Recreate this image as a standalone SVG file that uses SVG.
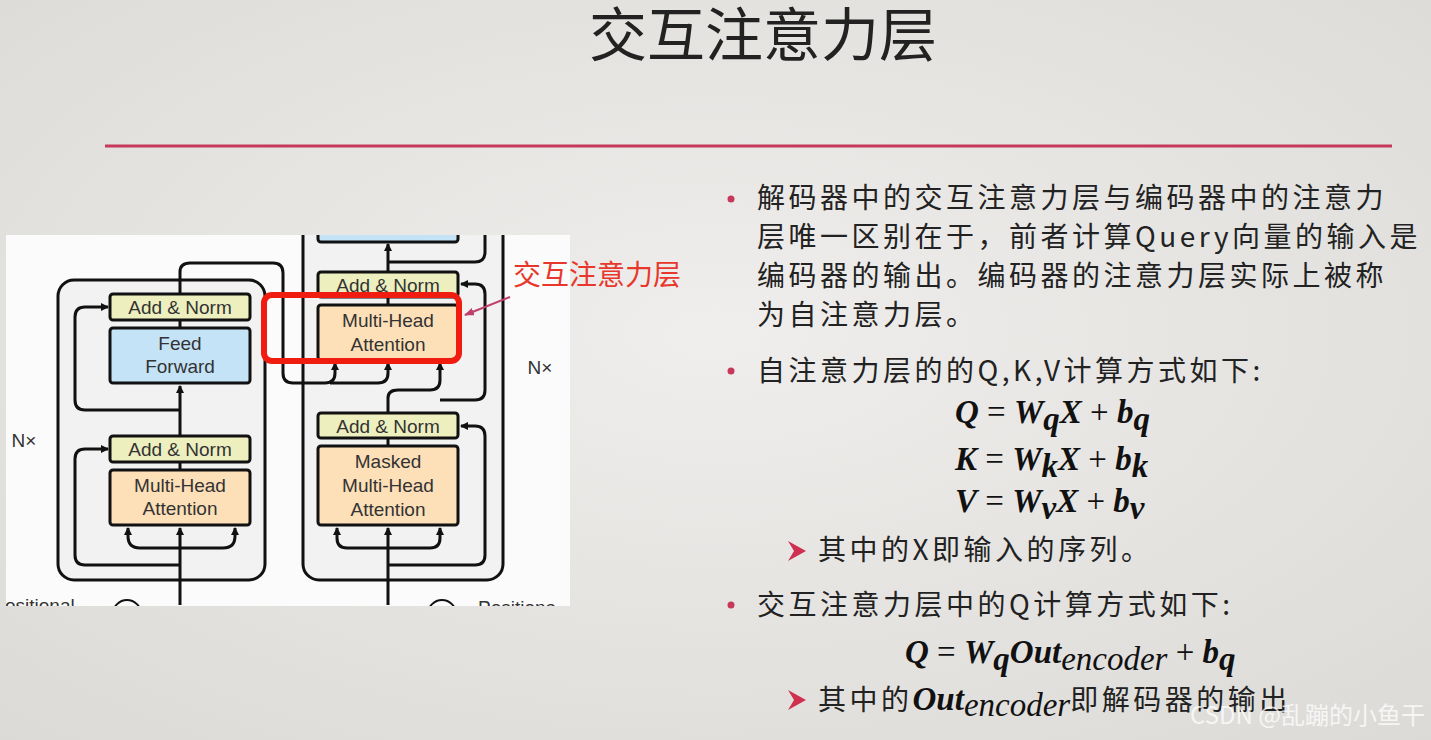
<svg xmlns="http://www.w3.org/2000/svg" width="1431" height="740" viewBox="0 0 1431 740">
<defs>
<radialGradient id="bg" cx="0.5" cy="0.45" r="0.75"><stop offset="0" stop-color="#efeeec"/><stop offset="1" stop-color="#dcdad7"/></radialGradient>
<marker id="ah" markerWidth="8" markerHeight="8" refX="7" refY="4" orient="auto" markerUnits="userSpaceOnUse"><path d="M0,0 L8,4 L0,8 Z" fill="#111"/></marker>
<marker id="ar" markerWidth="10" markerHeight="8" refX="9" refY="4" orient="auto" markerUnits="userSpaceOnUse"><path d="M0,0 L10,4 L0,8 Z" fill="#c0406a"/></marker>
<clipPath id="panel"><rect x="6" y="235" width="564" height="371"/></clipPath>
<style>
.an{fill:#eeefbf;stroke:#111;stroke-width:3}
.ff{fill:#c5e3f7;stroke:#111;stroke-width:3}
.mh{fill:#fde0b8;stroke:#111;stroke-width:3}
.bt{font-family:"Liberation Sans",Arial,sans-serif;font-size:19px;fill:#333;text-anchor:middle}
.ln{fill:none;stroke:#111;stroke-width:3}
.cn{font-family:"Noto Sans CJK SC",sans-serif;font-size:28px;letter-spacing:3.5px;fill:#222}
.fm{font-family:"Liberation Serif",serif;font-weight:bold;font-style:italic;font-size:33px;fill:#111}
.fo{font-family:"Liberation Serif",serif;font-size:33px;fill:#111}
</style>
</defs>
<rect width="1431" height="740" fill="url(#bg)"/>
<text x="763" y="56" text-anchor="middle" font-family="Noto Sans CJK SC,sans-serif" font-size="58" fill="#222">交互注意力层</text>
<line x1="105" y1="146" x2="1392" y2="146" stroke="#c8385a" stroke-width="3"/>

<g clip-path="url(#panel)">
<rect x="6" y="235" width="564" height="371" fill="#fbfbfb"/>
<g id="encoder">
<rect x="58" y="280" width="207" height="300" rx="16" fill="#f2f2f2" stroke="#111" stroke-width="3"/>
</g>
<g id="decoder">
<rect x="303" y="215" width="200" height="365" rx="16" fill="#f2f2f2" stroke="#111" stroke-width="3"/>
</g>
<g id="connectors">
<path class="ln" d="M180,605 V528" marker-end="url(#ah)"/>
<path class="ln" d="M180,548 H140 Q128,548 128,536 V528" marker-end="url(#ah)"/>
<path class="ln" d="M180,548 H223 Q235,548 235,536 V528" marker-end="url(#ah)"/>
<path class="ln" d="M180,565 H85 Q75,565 75,555 V459 Q75,449 85,449 H108" marker-end="url(#ah)"/>
<path class="ln" d="M180,470 V462"/>
<path class="ln" d="M180,436 V386" marker-end="url(#ah)"/>
<path class="ln" d="M180,410 H85 Q75,410 75,400 V317 Q75,307 85,307 H108" marker-end="url(#ah)"/>
<path class="ln" d="M180,328 V320"/>
<path class="ln" d="M180,294 V272 Q180,263 190,263 H273 Q283,263 283,273 V373 Q283,383 293,383 H325 Q335,383 335,373 V363" marker-end="url(#ah)"/>
<path class="ln" d="M330,383 H378 Q388,383 388,373 V363" marker-end="url(#ah)"/>
<path class="ln" d="M388,605 V528" marker-end="url(#ah)"/>
<path class="ln" d="M388,548 H347 Q337,548 337,538 V528" marker-end="url(#ah)"/>
<path class="ln" d="M388,548 H430 Q440,548 440,538 V528" marker-end="url(#ah)"/>
<path class="ln" d="M388,565 H475 Q485,565 485,555 V436 Q485,426 475,426 H461" marker-end="url(#ah)"/>
<path class="ln" d="M388,446 V438"/>
<path class="ln" d="M388,413 V398 Q388,390 398,390 H430 Q440,390 440,380 V363" marker-end="url(#ah)"/>
<path class="ln" d="M440,400 H475 Q485,400 485,390 V294 Q485,284 475,284 H461" marker-end="url(#ah)"/>
<path class="ln" d="M388,305 V297"/>
<path class="ln" d="M388,272 V244" marker-end="url(#ah)"/>
<path class="ln" d="M388,262 H475 Q485,262 485,252 V235"/>
<path d="M510,297 L465,315" stroke="#c0406a" stroke-width="2" fill="none" marker-end="url(#ar)"/>
</g>
<g id="enc-an2"><rect class="an" x="110" y="294" width="140" height="26" rx="3"/><text class="bt" x="180" y="314">Add &amp; Norm</text></g>
<g id="enc-ff"><rect class="ff" x="110" y="328" width="140" height="55" rx="3"/><text class="bt" x="180" y="350">Feed</text><text class="bt" x="180" y="373">Forward</text></g>
<g id="enc-an1"><rect class="an" x="110" y="436" width="140" height="26" rx="3"/><text class="bt" x="180" y="456">Add &amp; Norm</text></g>
<g id="enc-mha"><rect class="mh" x="110" y="470" width="140" height="55" rx="3"/><text class="bt" x="180" y="492">Multi-Head</text><text class="bt" x="180" y="515">Attention</text></g>
<g id="dec-top"><rect class="ff" x="318" y="220" width="140" height="22" rx="3"/></g>
<g id="dec-an2"><rect class="an" x="318" y="272" width="140" height="25" rx="3"/><text class="bt" x="388" y="292">Add &amp; Norm</text></g>
<g id="dec-mha"><rect class="mh" x="318" y="305" width="140" height="55" rx="3"/><text class="bt" x="388" y="327">Multi-Head</text><text class="bt" x="388" y="351">Attention</text></g>
<g id="dec-an1"><rect class="an" x="318" y="413" width="140" height="25" rx="3"/><text class="bt" x="388" y="433">Add &amp; Norm</text></g>
<g id="dec-mmha"><rect class="mh" x="318" y="446" width="140" height="79" rx="3"/><text class="bt" x="388" y="468">Masked</text><text class="bt" x="388" y="492">Multi-Head</text><text class="bt" x="388" y="516">Attention</text></g>
<g id="highlight"><rect x="264" y="295" width="195" height="66" rx="8" fill="none" stroke="#f01c10" stroke-width="6"/></g>
<text class="bt" x="540" y="374">N×</text>
<text class="bt" x="24" y="447">N×</text>
<circle cx="127" cy="614" r="14" fill="none" stroke="#111" stroke-width="2"/>
<circle cx="442" cy="614" r="14" fill="none" stroke="#111" stroke-width="2"/>
<text x="5" y="612" font-family="Liberation Sans,sans-serif" font-size="19" fill="#333">ositional</text>
<text x="478" y="614" font-family="Liberation Sans,sans-serif" font-size="19" fill="#333">Positiona</text>
</g>
<text x="513" y="285" font-family="Noto Sans CJK SC,sans-serif" font-size="28" fill="#e8372c">交互注意力层</text>

<g id="text">
<circle cx="731" cy="199" r="3.5" fill="#c8385a"/>
<text class="cn" x="757" y="208">解码器中的交互注意力层与编码器中的注意力</text>
<text class="cn" x="757" y="247">层唯一区别在于，前者计算Query向量的输入是</text>
<text class="cn" x="757" y="286">编码器的输出。编码器的注意力层实际上被称</text>
<text class="cn" x="757" y="325">为自注意力层。</text>
<circle cx="731" cy="371" r="3.5" fill="#c8385a"/>
<text class="cn" x="757" y="381">自注意力层的的Q,K,V计算方式如下:</text>
<text x="955" y="423"><tspan class="fm">Q</tspan><tspan class="fo"> = </tspan><tspan class="fm">W</tspan><tspan class="fm" font-size="22" dy="7">q</tspan><tspan class="fm" dy="-7">X</tspan><tspan class="fo"> + </tspan><tspan class="fm">b</tspan><tspan class="fm" font-size="22" dy="7">q</tspan></text>
<text x="955" y="470"><tspan class="fm">K</tspan><tspan class="fo"> = </tspan><tspan class="fm">W</tspan><tspan class="fm" font-size="22" dy="7">k</tspan><tspan class="fm" dy="-7">X</tspan><tspan class="fo"> + </tspan><tspan class="fm">b</tspan><tspan class="fm" font-size="22" dy="7">k</tspan></text>
<text x="955" y="512"><tspan class="fm">V</tspan><tspan class="fo"> = </tspan><tspan class="fm">W</tspan><tspan class="fm" font-size="22" dy="7">v</tspan><tspan class="fm" dy="-7">X</tspan><tspan class="fo"> + </tspan><tspan class="fm">b</tspan><tspan class="fm" font-size="22" dy="7">v</tspan></text>
<path d="M788,541 L806,551 L788,561 L794,551 Z" fill="#d03050"/>
<text class="cn" x="818" y="560" font-size="26" letter-spacing="1">其中的X即输入的序列。</text>
<circle cx="731" cy="605" r="3.5" fill="#c8385a"/>
<text class="cn" x="757" y="615">交互注意力层中的Q计算方式如下:</text>
<text x="905" y="663"><tspan class="fm">Q</tspan><tspan class="fo"> = </tspan><tspan class="fm">W</tspan><tspan class="fm" font-size="22" dy="7">q</tspan><tspan class="fm" dy="-7">Out</tspan><tspan class="fo" font-style="italic" font-size="24" dy="7">encoder</tspan><tspan class="fo" dy="-7"> + </tspan><tspan class="fm">b</tspan><tspan class="fm" font-size="22" dy="7">q</tspan></text>
<path d="M788,690 L806,700 L788,710 L794,700 Z" fill="#d03050"/>
<text x="818" y="710"><tspan class="cn" font-size="26" letter-spacing="1">其中的</tspan><tspan class="fm" font-size="28">Out</tspan><tspan class="fo" font-style="italic" font-size="22" dy="6">encoder</tspan><tspan class="cn" font-size="26" letter-spacing="1" dy="-6">即解码器的输出</tspan></text>
<text x="1425" y="724" text-anchor="end" font-family="Noto Sans CJK SC,sans-serif" font-size="24" fill="#ffffff" fill-opacity="0.75">CSDN @乱蹦的小鱼干</text>
</g>
</svg>
